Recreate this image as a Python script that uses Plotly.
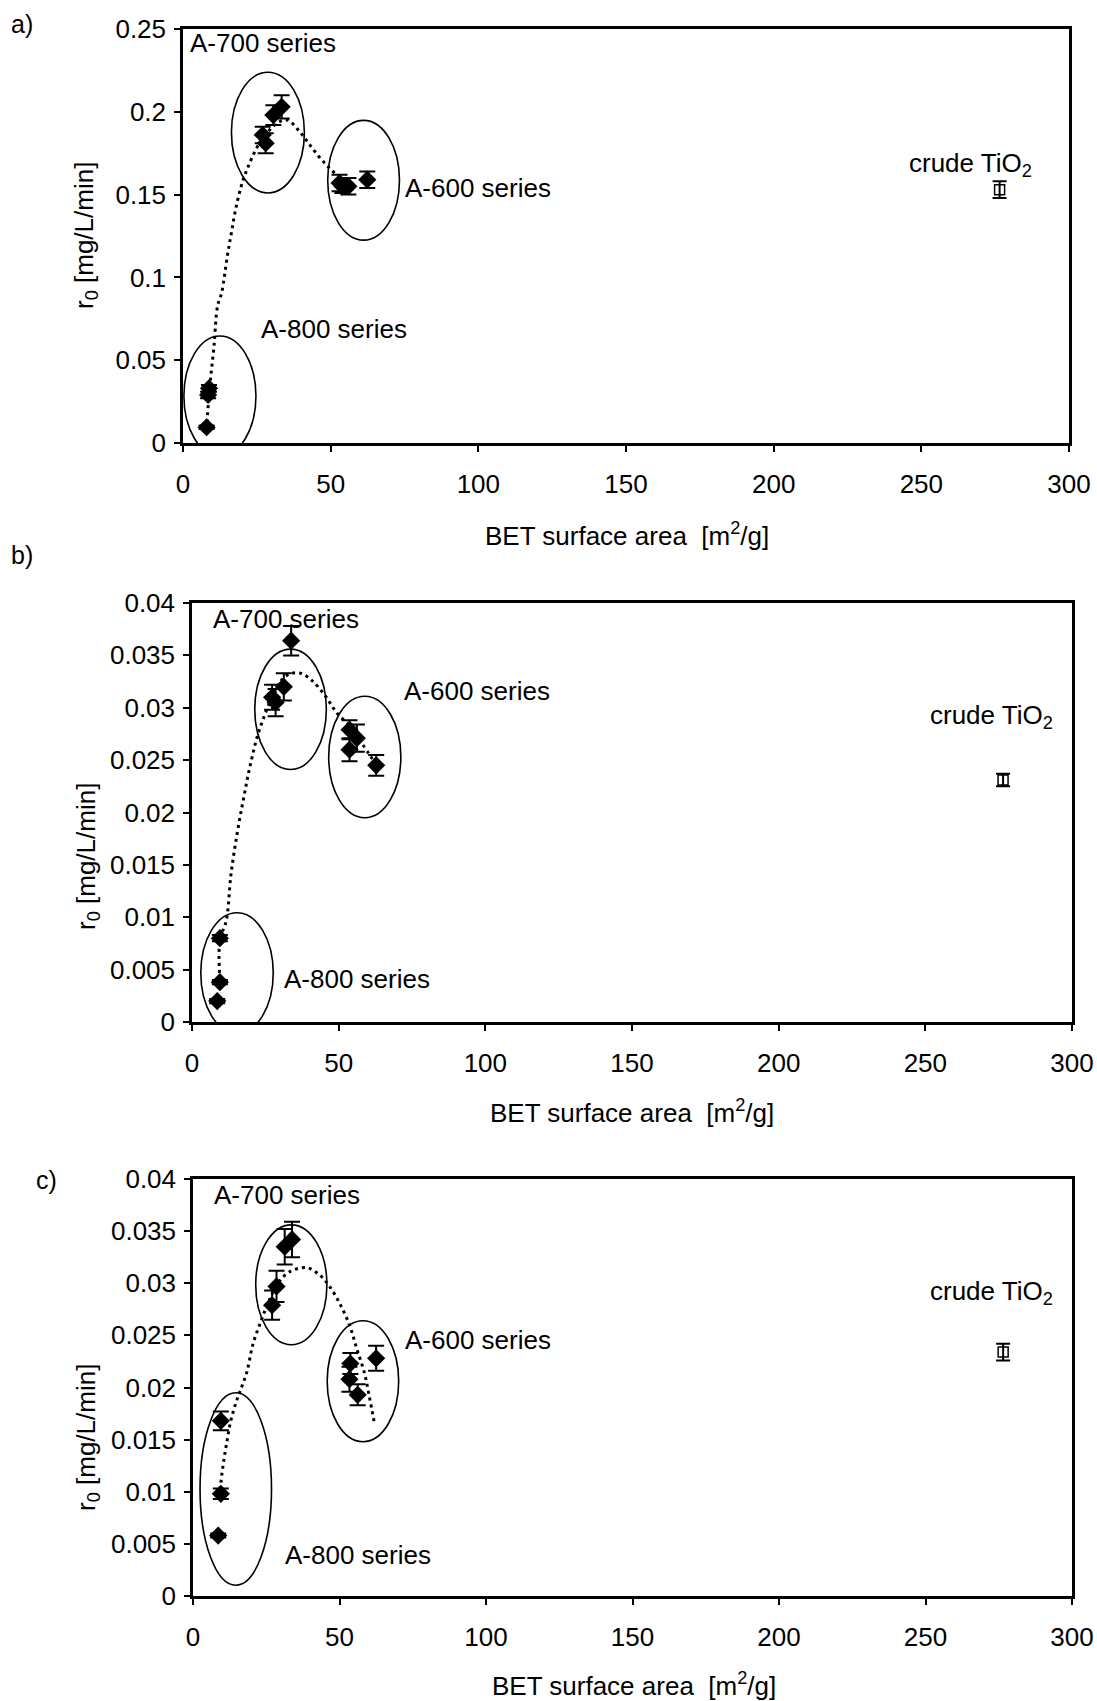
import plotly.graph_objects as go

W, H = 1097, 1701

# ---------------- data ----------------
# panel a
a_x = [8.0, 8.5, 8.8, 27.0, 28.0, 30.6, 33.4, 53.0, 54.0, 56.0, 62.4]
a_y = [0.0095, 0.029, 0.033, 0.186, 0.181, 0.198, 0.203, 0.157, 0.155, 0.155, 0.159]
a_err = [0.001, 0.002, 0.002, 0.005, 0.006, 0.006, 0.007, 0.005, 0.004, 0.005, 0.005]
a_crude_x = [276.5]
a_crude_y = [0.153]
a_crude_err = [0.005]
a_trend_x = [8.1, 9.1, 10.5, 11.7, 13.1, 15.0, 16.4, 17.8, 19.7, 21.2, 25.9, 31.8, 35.4, 39.5, 42.5, 46.0, 49.6, 53.2, 55.0]
a_trend_y = [0.0125, 0.0345, 0.0586, 0.0827, 0.0908, 0.1128, 0.127, 0.141, 0.155, 0.163, 0.181, 0.193, 0.195, 0.188, 0.181, 0.173, 0.166, 0.160, 0.157]

# panel b
b_x = [8.6, 9.5, 9.5, 27.3, 28.5, 31.3, 33.8, 53.7, 53.7, 56.2, 62.8]
b_y = [0.0020, 0.0038, 0.0080, 0.0310, 0.0305, 0.0320, 0.0364, 0.0279, 0.0260, 0.0271, 0.0245]
b_err = [0.0002, 0.0002, 0.0003, 0.0012, 0.0013, 0.0013, 0.0014, 0.0009, 0.0011, 0.0013, 0.0010]
b_crude_x = [276.5]
b_crude_y = [0.0231]
b_crude_err = [0.0006]
b_trend_x = [9.5, 9.5, 11.7, 13.2, 14.3, 16.2, 17.7, 19.0, 20.5, 22.2, 24.5, 26.8, 29.6, 33.0, 37.0, 40.9, 45.5, 49.4, 54.0, 57.9, 62.5]
b_trend_y = [0.0040, 0.0078, 0.0097, 0.0139, 0.0161, 0.0193, 0.0215, 0.0234, 0.0253, 0.0272, 0.0291, 0.0307, 0.0323, 0.0332, 0.0333, 0.0326, 0.0311, 0.0295, 0.0282, 0.0266, 0.0247]

# panel c
c_x = [8.6, 9.5, 9.5, 27.0, 28.5, 31.3, 33.8, 53.4, 53.7, 56.2, 62.5]
c_y = [0.0058, 0.0098, 0.0168, 0.0279, 0.0297, 0.0335, 0.0342, 0.0208, 0.0223, 0.0193, 0.0228]
c_err = [0.0002, 0.0005, 0.0009, 0.0014, 0.0015, 0.0017, 0.0017, 0.0012, 0.0010, 0.0010, 0.0012]
c_crude_x = [276.5]
c_crude_y = [0.0234]
c_crude_err = [0.0008]
c_trend_x = [9.2, 10.5, 11.7, 12.8, 14.6, 16.0, 18.3, 20.5, 23.4, 25.6, 29.0, 33.0, 38.7, 43.2, 46.6, 50.0, 53.4, 55.7, 58.5, 60.2, 61.9]
c_trend_y = [0.0102, 0.0130, 0.0150, 0.0167, 0.0185, 0.0196, 0.0214, 0.0242, 0.0265, 0.0281, 0.0300, 0.0311, 0.0315, 0.0308, 0.0297, 0.0281, 0.0260, 0.0239, 0.0214, 0.0191, 0.0166]

x_ticks = [0, 50, 100, 150, 200, 250, 300]
panel_labels = ["a)", "b)", "c)"]
group_labels = ["A-700 series", "A-600 series", "A-800 series"]
crude_label = "crude TiO<sub>2</sub>"
y_title = "r<sub>0</sub> [mg/L/min]"
x_title = "BET surface area &nbsp;[m<sup>2</sup>/g]"

# ---------------- layout geometry (pixels) ----------------
FONT = "Liberation Sans, Arial, sans-serif"
panels = [
    dict(data=(a_x, a_y, a_err), crude=(a_crude_x, a_crude_y, a_crude_err), trend=(a_trend_x, a_trend_y),
         px=(183, 1069), py=(29, 443), yrange=[0, 0.25], dtick=0.05,
         ell=[(16.4, 41.1, 0.151, 0.2239), (49.0, 73.3, 0.1225, 0.1948), (0.3, 24.7, -0.0079, 0.0646)],
         txt=[(1.7, 0.2416), (74.5, 0.154), (25.9, 0.0687)], crude_txt=(245, 0.168),
         lab=(22, 24), ytitle=(85, 236), xtitle=(627, 534)),
    dict(data=(b_x, b_y, b_err), crude=(b_crude_x, b_crude_y, b_crude_err), trend=(b_trend_x, b_trend_y),
         px=(192, 1072), py=(603, 1022), yrange=[0, 0.04], dtick=0.005,
         ell=[(21.4, 45.8, 0.0241, 0.0356), (46.6, 71.2, 0.0195, 0.0311), (3.0, 27.7, -0.00108, 0.01043)],
         txt=[(6.4, 0.0385), (71.5, 0.0316), (30.7, 0.0041)], crude_txt=(251, 0.0292),
         lab=(22, 555), ytitle=(87, 857), xtitle=(632, 1111)),
    dict(data=(c_x, c_y, c_err), crude=(c_crude_x, c_crude_y, c_crude_err), trend=(c_trend_x, c_trend_y),
         px=(193, 1072), py=(1179, 1596), yrange=[0, 0.04], dtick=0.005,
         ell=[(21.4, 45.7, 0.0241, 0.0356), (45.8, 70.2, 0.0148, 0.0264), (2.4, 26.8, 0.00103, 0.0195)],
         txt=[(6.4, 0.0385), (71.5, 0.0246), (30.7, 0.0039)], crude_txt=(251, 0.0291),
         lab=(46, 1180), ytitle=(87, 1438), xtitle=(634, 1684)),
]

fig = go.Figure()
shapes = []
annotations = []

for i, p in enumerate(panels):
    n = "" if i == 0 else str(i + 1)
    xa, ya = "x" + n, "y" + n
    px, py = p["px"], p["py"]
    # trend line
    fig.add_trace(go.Scatter(x=p["trend"][0], y=p["trend"][1], mode="lines", xaxis=xa, yaxis=ya,
                             line=dict(color="black", width=3, dash="3px,4px", shape="spline"),
                             showlegend=False, hoverinfo="skip"))
    # samples
    xs, ys, es = p["data"]
    fig.add_trace(go.Scatter(x=xs, y=ys, mode="markers", xaxis=xa, yaxis=ya,
                             marker=dict(symbol="diamond", size=14, color="black"),
                             error_y=dict(type="data", array=es, color="black", thickness=2, width=8),
                             showlegend=False))
    # crude TiO2
    cx, cy, ce = p["crude"]
    fig.add_trace(go.Scatter(x=cx, y=cy, mode="markers", xaxis=xa, yaxis=ya,
                             marker=dict(symbol="square-open", size=10, color="black", line=dict(width=1.5)),
                             error_y=dict(type="data", array=ce, color="black", thickness=2, width=7),
                             showlegend=False))
    axis_common = dict(showline=True, linecolor="black", linewidth=2.5, mirror=True,
                       ticks="outside", ticklen=6, tickwidth=2, tickcolor="black",
                       showgrid=False, zeroline=False, automargin=False,
                       tickfont=dict(family=FONT, size=26, color="black"))
    fig.layout["xaxis" + n] = dict(domain=[px[0] / W, px[1] / W], range=[0, 300], tickvals=x_ticks,
                                   anchor=ya, ticklabelstandoff=10, **axis_common)
    fig.layout["yaxis" + n] = dict(domain=[1 - py[1] / H, 1 - py[0] / H], range=p["yrange"],
                                   dtick=p["dtick"], tick0=0, anchor=xa, ticklabelstandoff=3,
                                   **axis_common)
    for (x0, x1, y0, y1) in p["ell"]:
        shapes.append(dict(type="circle", xref=xa, yref=ya, x0=x0, x1=x1, y0=y0, y1=y1,
                           line=dict(color="black", width=1.6)))
    for (tx, ty), t in zip(p["txt"], group_labels):
        annotations.append(dict(x=tx, y=ty, xref=xa, yref=ya, text=t, showarrow=False,
                                xanchor="left", yanchor="middle",
                                font=dict(family=FONT, size=26, color="black")))
    annotations.append(dict(x=p["crude_txt"][0], y=p["crude_txt"][1], xref=xa, yref=ya, text=crude_label,
                            showarrow=False, xanchor="left", yanchor="middle",
                            font=dict(family=FONT, size=26, color="black")))
    annotations.append(dict(x=p["lab"][0] / W, y=1 - p["lab"][1] / H, xref="paper", yref="paper",
                            text=panel_labels[i], showarrow=False, xanchor="center", yanchor="middle",
                            font=dict(family=FONT, size=25, color="black")))
    annotations.append(dict(x=p["ytitle"][0] / W, y=1 - p["ytitle"][1] / H, xref="paper", yref="paper",
                            text=y_title, showarrow=False, textangle=-90, xanchor="center", yanchor="middle",
                            font=dict(family=FONT, size=26, color="black")))
    annotations.append(dict(x=p["xtitle"][0] / W, y=1 - p["xtitle"][1] / H, xref="paper", yref="paper",
                            text=x_title, showarrow=False, xanchor="center", yanchor="middle",
                            font=dict(family=FONT, size=26, color="black")))

fig.update_layout(width=W, height=H, autosize=False,
                  margin=dict(l=0, r=0, t=0, b=0, pad=0, autoexpand=False),
                  paper_bgcolor="white", plot_bgcolor="white",
                  shapes=shapes, annotations=annotations, showlegend=False)

fig.write_html("out.html", config={"responsive": False})
